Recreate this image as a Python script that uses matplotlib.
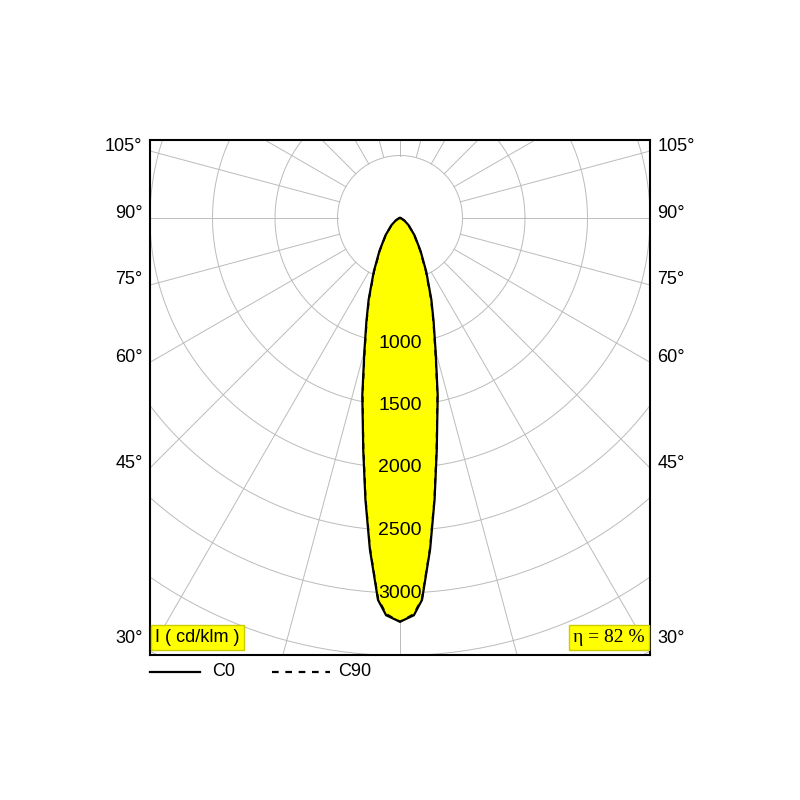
import numpy as np
import matplotlib
matplotlib.use("Agg")
import matplotlib.pyplot as plt
plt.rcParams['font.family'] = ['Liberation Sans', 'DejaVu Sans']

angles_deg = [0, 2, 3.3, 5.2, 7, 9, 12, 15, 18, 21, 26, 32, 40, 50, 60, 75, 90]
c0_cd = [3230, 3180, 3060, 2660, 2270, 1880, 1450, 1100, 870, 700, 480, 310, 180, 90, 40, 10, 0]
c90_cd = [3230, 3170, 3050, 2650, 2260, 1870, 1440, 1090, 860, 690, 470, 300, 175, 88, 38, 9, 0]
ring_labels = [1000, 1500, 2000, 2500, 3000]
side_labels = [105, 90, 75, 60, 45, 30]
eta_text = "η = 82 %"
unit_text = "I ( cd/klm )"

fig = plt.figure(figsize=(8, 8), dpi=100)
ax = fig.add_axes([150/800, 145/800, 500/800, 515/800])
XL = 2000
YT = 78/0.125
YB = -(655-218)/0.125
ax.set_xlim(-XL, XL); ax.set_ylim(YB, YT)
ax.set_xticks([]); ax.set_yticks([])
for s in ax.spines.values():
    s.set_linewidth(1.5)

t = np.linspace(0, 2*np.pi, 400)
for r in range(500, 5001, 500):
    ax.plot(r*np.cos(t), r*np.sin(t), color='#bbbbbb', lw=0.7, zorder=1)
for a in range(0, 360, 15):
    ar = np.radians(a)
    ax.plot([500*np.cos(ar), 6000*np.cos(ar)], [500*np.sin(ar), 6000*np.sin(ar)],
            color='#bbbbbb', lw=0.7, zorder=1)

def curve(vals):
    th = np.radians(np.array(angles_deg))
    r = np.array(vals, float)
    x = np.concatenate([-(r*np.sin(th))[::-1], (r*np.sin(th))[1:]])
    y = np.concatenate([-(r*np.cos(th))[::-1], -(r*np.cos(th))[1:]])
    return x, y

x0, y0 = curve(c0_cd)
x9, y9 = curve(c90_cd)
ax.fill(x0, y0, color='#ffff00', zorder=2)
ax.plot(x0, y0, color='black', lw=1.6, zorder=3)
ax.plot(x9, y9, color='black', lw=1.4, ls=(0, (3, 3)), zorder=3)

for v in ring_labels:
    ax.text(0, -v, str(v), ha='center', va='center', fontsize=14, zorder=4)

for a in side_labels:
    phi = np.radians(a - 90)
    y = XL*np.tan(phi)
    y = max(min(y, YT - 40), YB + 90)
    if a == 30:
        y = YB + 90
    for sx, ha in [(-1, 'right'), (1, 'left')]:
        ax.text(sx*(XL + 60), y + 40, f"{a}°", ha=ha, va='center', fontsize=13,
                clip_on=False)

ax.text(-XL + 40, YB + 140, unit_text, ha='left', va='center', fontsize=13,
        bbox=dict(facecolor='#ffff00', edgecolor='#cccc00', pad=3), zorder=5)
ax.text(XL - 40, YB + 140, eta_text, ha='right', va='center', fontsize=14,
        family=['Liberation Serif', 'DejaVu Serif'],
        bbox=dict(facecolor='#ffff00', edgecolor='#cccc00', pad=3), zorder=5)

fig.lines.append(plt.Line2D([150/800, 200/800], [128/800, 128/800], color='black', lw=1.6,
                            transform=fig.transFigure))
fig.text(212/800, 128/800, "C0", va='center', fontsize=13)
fig.lines.append(plt.Line2D([272/800, 330/800], [128/800, 128/800], color='black', lw=1.6,
                            ls=(0, (3, 3)), transform=fig.transFigure))
fig.text(338/800, 128/800, "C90", va='center', fontsize=13)

fig.savefig("out.png", dpi=100)
